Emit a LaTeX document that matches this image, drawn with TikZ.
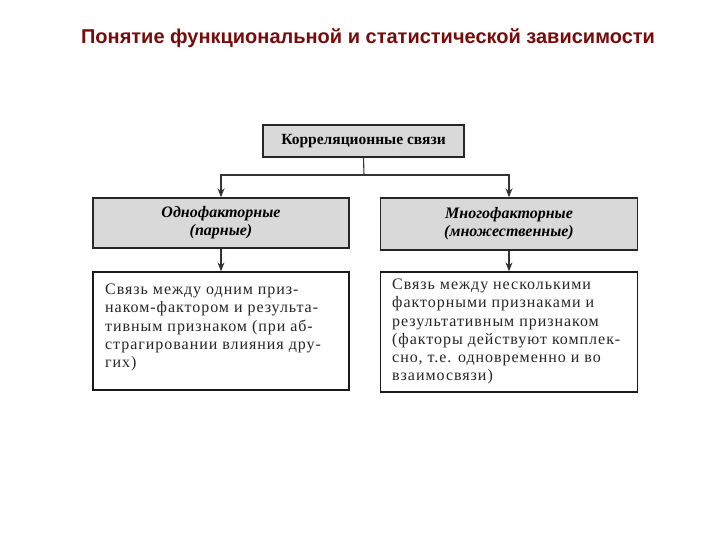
\documentclass[tikz,border=0pt]{standalone}
\usepackage{fontspec}
\setmainfont{Liberation Serif}
\newfontfamily\titlefont{Liberation Sans}
\newfontfamily\bodyfont[LetterSpace=6]{Liberation Serif}
\usetikzlibrary{arrows.meta}
\definecolor{titlered}{HTML}{7A0A0A}
\definecolor{boxgray}{HTML}{D9D9D9}
\tikzset{
  graybox/.style={draw=black!85, line width=1.5pt, fill=boxgray, inner sep=2pt, align=center},
  whitebox/.style={draw=black!90, line width=1.3pt, fill=white},
  conn/.style={draw=black!80, line width=1.1pt},
  arr/.style={conn, -{Stealth[length=9pt,width=7pt]}},
  bodytext/.style={anchor=north west, align=left, inner sep=0pt, font=\bodyfont\fontsize{16}{18.2}\selectfont, text=black!85}
}
\begin{document}
\begin{tikzpicture}[x=1pt,y=-1pt]
\useasboundingbox (0,0) rectangle (720,540);
\node[font=\titlefont\bfseries\fontsize{20}{22}\selectfont, text=titlered] (title) at (368,38) {Понятие функциональной и статистической зависимости};
\node[graybox, minimum width=201pt, minimum height=32pt, font=\bfseries\fontsize{15.5}{17}\selectfont] (top) at (363.5,141) {Корреляционные связи};
\node[graybox, minimum width=256pt, minimum height=50pt, font=\bfseries\itshape\fontsize{16}{18}\selectfont] (lmid) at (221,223) {Однофакторные\\(парные)};
\node[graybox, minimum width=257pt, minimum height=52pt, font=\bfseries\itshape\fontsize{16}{18}\selectfont] (rmid) at (509,224) {Многофакторные\\(множественные)};
\node[whitebox, minimum width=256pt, minimum height=118pt] (lbot) at (221,331) {};
\node[whitebox, minimum width=257pt, minimum height=120pt] (rbot) at (509,332) {};
\node[bodytext] (ltext) at (105,284) {Связь между одним приз-\\наком-фактором и результа-\\тивным признаком (при аб-\\страгировании влияния дру-\\гих)};
\node[bodytext] (rtext) at (392,279) {Связь между несколькими\\факторными признаками и\\результативным признаком\\(факторы действуют комплек-\\сно, т.е. одновременно и во\\взаимосвязи)};
\coordinate (j) at (364,175);
\draw[conn] (top.south) -- (j);
\draw[arr] (j) -| (lmid.north);
\draw[arr] (j) -| (rmid.north);
\draw[arr] (lmid.south) -- (lbot.north);
\draw[arr] (rmid.south) -- (rbot.north);
\end{tikzpicture}
\end{document}
